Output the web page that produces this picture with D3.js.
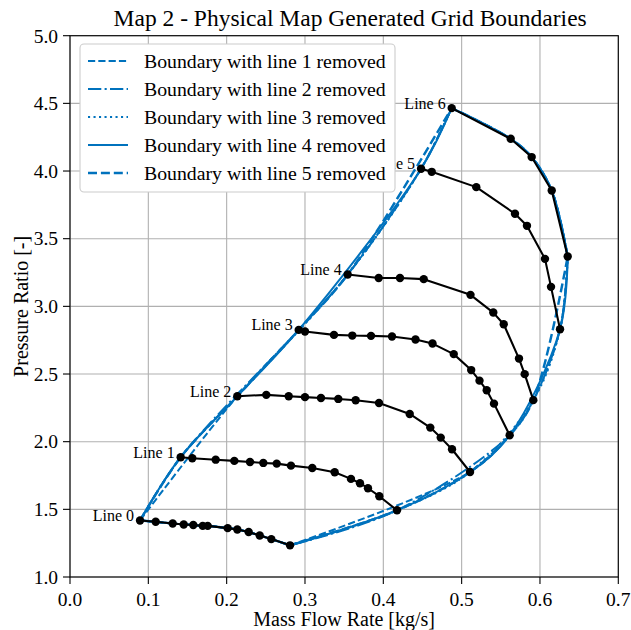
<!DOCTYPE html>
<html><head><meta charset="utf-8">
<script src="https://cdn.jsdelivr.net/npm/d3@7/dist/d3.min.js"></script>
<style>
body{margin:0;background:#fff}
svg{display:block}
</style>
</head><body>
<svg id="chart" width="631" height="630"></svg>
<script>
// ---- data ----
const titleText = "Map 2 - Physical Map Generated Grid Boundaries";
const xLabel = "Mass Flow Rate [kg/s]";
const yLabel = "Pressure Ratio [-]";
const xTicks = [0.0, 0.1, 0.2, 0.3, 0.4, 0.5, 0.6, 0.7];
const yTicks = [1.0, 1.5, 2.0, 2.5, 3.0, 3.5, 4.0, 4.5, 5.0];
const lineNames = ["Line 0", "Line 1", "Line 2", "Line 3", "Line 4", "Line 5", "Line 6"];

const line0 = [[0.0894,1.418],[0.1094,1.408],[0.1311,1.395],[0.1452,1.388],[0.1574,1.384],[0.1694,1.378],[0.1758,1.378],[0.2013,1.361],[0.2136,1.351],[0.2281,1.332],[0.2422,1.307],[0.2570,1.280],[0.2809,1.234]];
const line1 = [[0.1413,1.885],[0.1561,1.878],[0.1860,1.867],[0.2098,1.858],[0.2298,1.850],[0.2468,1.843],[0.2639,1.838],[0.2821,1.823],[0.3093,1.806],[0.3379,1.774],[0.3587,1.725],[0.3702,1.693],[0.3804,1.656],[0.3949,1.597],[0.4175,1.493]];
const line2 = [[0.2136,2.336],[0.2506,2.346],[0.2792,2.336],[0.3000,2.329],[0.3204,2.323],[0.3425,2.316],[0.3647,2.306],[0.3945,2.286],[0.4337,2.205],[0.4600,2.104],[0.4733,2.030],[0.4877,1.944],[0.5107,1.776]];
const line3 = [[0.2920,2.826],[0.3000,2.814],[0.3370,2.789],[0.3604,2.784],[0.3843,2.782],[0.4111,2.777],[0.4411,2.755],[0.4628,2.725],[0.4899,2.647],[0.5122,2.529],[0.5228,2.451],[0.5320,2.380],[0.5413,2.281],[0.5613,2.048]];
const line4 = [[0.3545,3.235],[0.3941,3.209],[0.4213,3.209],[0.4516,3.201],[0.5113,3.085],[0.5404,2.954],[0.5537,2.868],[0.5732,2.614],[0.5805,2.499],[0.5915,2.307]];
const line5 = [[0.4482,4.017],[0.4618,3.994],[0.5187,3.881],[0.5681,3.684],[0.5834,3.595],[0.6064,3.351],[0.6141,3.144],[0.6256,2.831]];
const line6 = [[0.4873,4.465],[0.5626,4.238],[0.5894,4.103],[0.6150,3.856],[0.6354,3.368]];

const removedLines = [1, 2, 3, 4, 5];
const legendLabels = ["Boundary with line 1 removed","Boundary with line 2 removed","Boundary with line 3 removed","Boundary with line 4 removed","Boundary with line 5 removed"];

// ---- layout / styles ----
const plot = {left: 70, right: 618.3, top: 35.7, bottom: 577};
const blue = "#0072BD";
const styles = [
  {w: 2.0, dash: "7.2,3.1"},
  {w: 2.0, dash: "13.3,3.3,2.1,3.3"},
  {w: 2.0, dash: "2.1,3.4"},
  {w: 2.0, dash: null},
  {w: 2.45, dash: "9,3.9"}
];
const FONT = '"Liberation Serif", "Times New Roman", Times, serif';

const svg = d3.select("#chart");
const x = d3.scaleLinear().domain([0, 0.7]).range([plot.left, plot.right]);
const y = d3.scaleLinear().domain([1, 5]).range([plot.bottom, plot.top]);

function txt(sel) { return sel.attr("font-family", FONT).attr("fill", "#000"); }

// grid
const g = svg.append("g");
g.selectAll("line.gx").data(xTicks).enter().append("line")
  .attr("x1", d => x(d)).attr("x2", d => x(d))
  .attr("y1", plot.top).attr("y2", plot.bottom)
  .attr("stroke", "#b0b0b0").attr("stroke-width", 1.1);
g.selectAll("line.gy").data(yTicks).enter().append("line")
  .attr("y1", d => y(d)).attr("y2", d => y(d))
  .attr("x1", plot.left).attr("x2", plot.right)
  .attr("stroke", "#b0b0b0").attr("stroke-width", 1.1);

// clip
svg.append("clipPath").attr("id", "clip").append("rect")
  .attr("x", plot.left).attr("y", plot.top)
  .attr("width", plot.right - plot.left).attr("height", plot.bottom - plot.top);

const lines = [line0, line1, line2, line3, line4, line5, line6];
const curveGen = d3.line().x(d => x(d[0])).y(d => y(d[1])).curve(d3.curveCatmullRom.alpha(0.5));

function boundaryPath(k) {
  const keep = lines.filter((_, i) => i !== k);
  const starts = keep.map(l => l[0]);
  const ends = keep.map(l => l[l.length - 1]).reverse();
  const bottom = line0.slice().reverse();
  return [starts, line6, ends, bottom].map((p, i) => {
    const s = curveGen(p);
    return i > 0 ? s.replace(/^M/, "L") : s;
  }).join("");
}

const bg = svg.append("g").attr("clip-path", "url(#clip)");
removedLines.forEach((k, i) => {
  bg.append("path").attr("d", boundaryPath(k))
    .attr("fill", "none").attr("stroke", blue)
    .attr("stroke-width", styles[i].w)
    .attr("stroke-dasharray", styles[i].dash)
    .attr("stroke-linejoin", "round");
});

// grid lines (black) and markers
const linGen = d3.line().x(d => x(d[0])).y(d => y(d[1]));
const lg = svg.append("g");
lines.forEach((l) => {
  lg.append("path").attr("d", linGen(l)).attr("fill", "none")
    .attr("stroke", "#000").attr("stroke-width", 2.08).attr("stroke-linejoin", "round");
  lg.selectAll(null).data(l).enter().append("circle")
    .attr("cx", d => x(d[0])).attr("cy", d => y(d[1])).attr("r", 4.2).attr("fill", "#000");
});
// line labels
lines.forEach((l, i) => {
  txt(lg.append("text")).attr("x", x(l[0][0]) - 6).attr("y", y(l[0][1]) + 0.5)
    .attr("text-anchor", "end").attr("font-size", 16).text(lineNames[i]);
});

// spines
svg.append("rect").attr("x", plot.left).attr("y", plot.top)
  .attr("width", plot.right - plot.left).attr("height", plot.bottom - plot.top)
  .attr("fill", "none").attr("stroke", "#000").attr("stroke-width", 1.1);

// axes ticks
const ax = svg.append("g");
ax.selectAll("line.tx").data(xTicks).enter().append("line")
  .attr("x1", d => x(d)).attr("x2", d => x(d)).attr("y1", plot.bottom).attr("y2", plot.bottom + 7)
  .attr("stroke", "#000").attr("stroke-width", 1.1);
txt(ax.selectAll("text.tx").data(xTicks).enter().append("text"))
  .attr("x", d => x(d)).attr("y", 606).attr("text-anchor", "middle")
  .attr("font-size", 19.5).text(d => d3.format(".1f")(d));
ax.selectAll("line.ty").data(yTicks).enter().append("line")
  .attr("x1", plot.left - 7).attr("x2", plot.left).attr("y1", d => y(d)).attr("y2", d => y(d))
  .attr("stroke", "#000").attr("stroke-width", 1.1);
txt(ax.selectAll("text.ty").data(yTicks).enter().append("text"))
  .attr("x", plot.left - 12).attr("y", d => y(d) + 6.8).attr("text-anchor", "end")
  .attr("font-size", 19.5).text(d => d3.format(".1f")(d));

// axis labels & title
txt(svg.append("text")).attr("x", (plot.left + plot.right) / 2).attr("y", 626)
  .attr("text-anchor", "middle").attr("font-size", 20).text(xLabel);
txt(svg.append("text")).attr("transform", `translate(28,${(plot.top + plot.bottom) / 2}) rotate(-90)`)
  .attr("text-anchor", "middle").attr("font-size", 20).text(yLabel);
txt(svg.append("text")).attr("x", (plot.left + plot.right) / 2 + 6).attr("y", 25.5)
  .attr("text-anchor", "middle").attr("font-size", 23.5).text(titleText);

// legend
const leg = svg.append("g");
leg.append("rect").attr("x", 80).attr("y", 44).attr("width", 315).attr("height", 148)
  .attr("rx", 4).attr("fill", "#fff").attr("fill-opacity", 1)
  .attr("stroke", "#cccccc").attr("stroke-width", 1.1);
legendLabels.forEach((t, i) => {
  const cy = 61 + 28 * i;
  leg.append("line").attr("x1", 88).attr("x2", 128).attr("y1", cy).attr("y2", cy)
    .attr("stroke", blue).attr("stroke-width", styles[i].w).attr("stroke-dasharray", styles[i].dash);
  txt(leg.append("text")).attr("x", 144).attr("y", cy + 6.5).attr("font-size", 19.8).text(t);
});
</script>
</body></html>
